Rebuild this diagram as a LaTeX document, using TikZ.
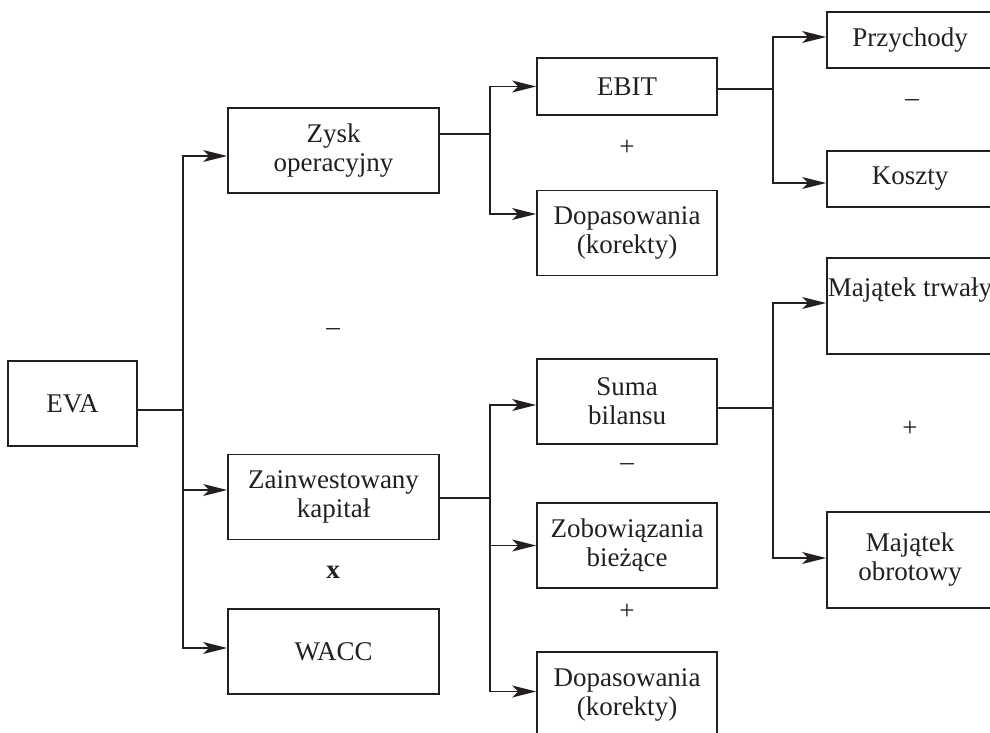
\documentclass[tikz,border=0pt]{standalone}
\usepackage{fontspec}
\setmainfont{Liberation Serif}
\usetikzlibrary{arrows.meta}
\definecolor{ink}{HTML}{231F20}

\begin{document}
\begin{tikzpicture}[x=0.5pt,y=-0.5pt,
    every node/.style={text=ink,font=\fontsize{13.5pt}{14.5pt}\selectfont},
    box/.style={draw=ink,line width=0.9pt,align=center,inner sep=0pt,minimum height=42.5pt},
    wbox/.style={box,minimum width=105.5pt},
    mbox/.style={box,minimum width=90pt},
    rbox/.style={box,minimum width=83pt},
    link/.style={draw=ink,line width=0.7pt},
    arr/.style={link,-{Stealth[length=12pt,width=6pt,inset=3pt]}}]
  \useasboundingbox (0,0) rectangle (990,733);
  \clip (0,0) rectangle (990,733);

  % first level
  \node[box,minimum width=64.5pt] (eva) at (72.5,403.5) {EVA};
  \node[wbox] (zysk) at (333.5,150.5) {Zysk\\operacyjny};
  \node[wbox] (zain) at (333.5,497) {Zainwestowany\\kapitał};
  \node[wbox] (wacc) at (333.5,651.5) {WACC};

  % second level
  \node[mbox,minimum height=28.5pt] (ebit) at (627,86.5) {EBIT};
  \node[mbox] (dopa) at (627,233) {Dopasowania\\(korekty)};
  \node[mbox] (suma) at (627,401.5) {Suma\\bilansu};
  \node[mbox] (zobo) at (627,545.5) {Zobowiązania\\bieżące};
  \node[mbox] (dopb) at (627,694.5) {Dopasowania\\(korekty)};

  % third level
  \node[rbox,minimum height=28pt] (przy) at (910,40) {Przychody};
  \node[rbox,minimum height=28pt] (kosz) at (910,179) {Koszty};
  \node[rbox,minimum height=48pt] (mtrw) at (910,306) {Majątek trwały\\\strut};
  \node[rbox,minimum height=48pt] (mobr) at (910,560) {Majątek\\obrotowy};

  % operators
  \node (op1) at (333,332) {–};
  \node (op2) at (627,148) {+};
  \node (op3) at (912,103) {–};
  \node (op4) at (627,467) {–};
  \node (op5) at (627,612) {+};
  \node (op6) at (910,429) {+};
  \node (op7) at (333,572) {\textbf{x}};

  % junctions
  \coordinate (j1) at (183,410);
  \coordinate (j2) at (490,134);
  \coordinate (j3) at (490,498);
  \coordinate (j4) at (773,89);
  \coordinate (j5) at (773,408);

  \draw[link] (eva.east |- j1) -- (j1);
  \draw[arr] (j1) |- ([yshift=-2.75pt]zysk.west);
  \draw[arr] (j1) |- ([yshift=3.5pt]zain.west);
  \draw[arr] (j1) |- ([yshift=1.75pt]wacc.west);

  \draw[link] (zysk.east |- j2) -- (j2);
  \draw[arr] (j2) |- (ebit.west);
  \draw[arr] (j2) |- ([yshift=9.5pt]dopa.west);

  \draw[link] (zain.east |- j3) -- (j3);
  \draw[arr] (j3) |- ([yshift=-1.75pt]suma.west);
  \draw[arr] (j3) |- (zobo.west);
  \draw[arr] (j3) |- ([yshift=1.5pt]dopb.west);

  \draw[link] (ebit.east |- j4) -- (j4);
  \draw[arr] (j4) |- ([yshift=1.5pt]przy.west);
  \draw[arr] (j4) |- ([yshift=-2pt]kosz.west);

  \draw[link] (suma.east |- j5) -- (j5);
  \draw[arr] (j5) |- ([yshift=1.5pt]mtrw.west);
  \draw[arr] (j5) |- ([yshift=1pt]mobr.west);
\end{tikzpicture}
\end{document}
